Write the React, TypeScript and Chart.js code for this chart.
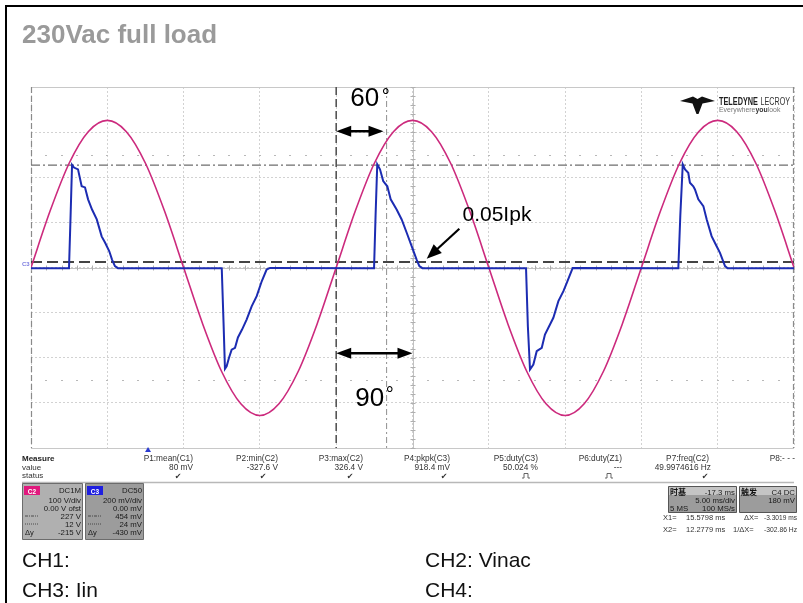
import React, { useEffect, useRef } from "react";
import { Chart, registerables } from "chart.js";

Chart.register(...registerables);

const FONT = '"Liberation Sans", Arial, Helvetica, sans-serif';
const CJK = '"Noto Sans CJK SC", "Liberation Sans", sans-serif';

// ---------------- data ----------------
// CH2: Vinac (V), read every 1.25 ms
const vinacTimeMs = [
  0, 1.25, 2.5, 3.75, 5, 6.25, 7.5, 8.75, 10, 11.25, 12.5, 13.75, 15, 16.25, 17.5, 18.75,
  20, 21.25, 22.5, 23.75, 25, 26.25, 27.5, 28.75, 30, 31.25, 32.5, 33.75, 35, 36.25, 37.5, 38.75,
  40, 41.25, 42.5, 43.75, 45, 46.25, 47.5, 48.75, 50,
];
const vinacVolts = [
  0, 125, 231, 301, 326, 301, 231, 125, 0, -125, -231, -302, -328, -302, -231, -125,
  0, 125, 231, 301, 326, 301, 231, 125, 0, -125, -231, -302, -328, -302, -231, -125,
  0, 125, 231, 301, 326, 301, 231, 125, 0,
];

// CH3: Iin (mV at 200 mV/div)
const iinTimeMs = [
  0, 2.49, 2.59, 2.69, 2.82, 3.08, 3.32, 3.54, 3.74, 4.0, 4.31, 4.63, 4.85, 5.13, 5.31, 5.5, 5.7,
  12.5, 12.62, 12.71, 12.82, 12.98, 13.15, 13.37, 13.56, 13.83, 14.13, 14.46, 14.79, 15.12, 15.44, 15.66,
  22.48, 22.58, 22.69, 22.87, 23.08, 23.35, 23.57, 23.96, 24.29, 24.62, 24.95, 25.27, 25.45, 25.65,
  32.44, 32.56, 32.7, 32.92, 33.14, 33.47, 33.68, 34.23, 34.56, 34.89, 35.11, 35.33, 35.5,
  42.42, 42.55, 42.71, 42.86, 43.07, 43.18, 43.4, 43.51, 43.73, 44.06, 44.28, 44.6, 44.93, 45.15, 45.48, 45.65, 50,
];
const iinMilliVolts = [
  -3, -3, 220, 455, 443, 435, 360, 355, 302, 257, 213, 138, 111, 72, 35, 6, -3,
  -3, -250, -449, -438, -399, -364, -356, -310, -275, -231, -172, -127, -61, -9, -2,
  -3, 230, 457, 435, 383, 360, 302, 257, 213, 154, 94, 35, 6, -3,
  -3, -260, -452, -430, -371, -356, -297, -223, -149, -105, -68, -31, -2,
  -3, 230, 457, 435, 420, 376, 360, 346, 302, 272, 213, 139, 94, 65, 6, -3, -3,
];

// axes: 10 div x 5 ms/div, 8 div x 100 V/div, 8 div x 200 mV/div
const timeRangeMs = [0, 50];
const voltRange = [-400, 400];
const currentRangeMv = [-800, 800];

// cursors
const cursorLevelsMv = [454, 24];
const cursorTimesMs = [20, 23.3];
const triggerTimeMs = 7.67;

// measurement table
const measureLabels = ["P1:mean(C1)", "P2:min(C2)", "P3:max(C2)", "P4:pkpk(C3)", "P5:duty(C3)", "P6:duty(Z1)", "P7:freq(C2)", "P8:- - -"];
const measureValues = ["80 mV", "-327.6 V", "326.4 V", "918.4 mV", "50.024 %", "---", "49.9974616 Hz", ""];
const measureStatus = ["ok", "ok", "ok", "ok", "pulse", "pulse", "ok", ""];

const c2BoxLines = ["DC1M", "100 V/div", "0.00 V ofst", "227 V", "12 V", "-215 V"];
const c3BoxLines = ["DC50", "200 mV/div", "0.00 mV", "454 mV", "24 mV", "-430 mV"];

const PINK = "#cc2a7d";
const BLUE = "#1c2cb2";

// ---------------- helpers ----------------
function txt(
  ctx: CanvasRenderingContext2D,
  s: string,
  x: number,
  y: number,
  size: number,
  color = "#222",
  align: CanvasTextAlign = "left",
  weight = "normal",
  family = FONT,
  maxWidth?: number
) {
  ctx.save();
  ctx.font = `${weight} ${size}px ${family}`;
  ctx.fillStyle = color;
  ctx.textAlign = align;
  ctx.textBaseline = "alphabetic";
  if (maxWidth) ctx.fillText(s, x, y, maxWidth);
  else ctx.fillText(s, x, y);
  ctx.restore();
}

function arrowHead(ctx: CanvasRenderingContext2D, tx: number, ty: number, fx: number, fy: number, len: number, half: number) {
  const a = Math.atan2(ty - fy, tx - fx);
  const bx = tx - len * Math.cos(a);
  const by = ty - len * Math.sin(a);
  ctx.beginPath();
  ctx.moveTo(tx, ty);
  ctx.lineTo(bx + half * Math.sin(a), by - half * Math.cos(a));
  ctx.lineTo(bx - half * Math.sin(a), by + half * Math.cos(a));
  ctx.closePath();
  ctx.fill();
}

function doubleArrow(ctx: CanvasRenderingContext2D, x1: number, x2: number, y: number) {
  ctx.save();
  ctx.strokeStyle = "#000";
  ctx.fillStyle = "#000";
  ctx.lineWidth = 2.5;
  ctx.beginPath();
  ctx.moveTo(x1 + 8, y);
  ctx.lineTo(x2 - 8, y);
  ctx.stroke();
  arrowHead(ctx, x1, y, x2, y, 15, 5.5);
  arrowHead(ctx, x2, y, x1, y, 15, 5.5);
  ctx.restore();
}

function hLine(ctx: CanvasRenderingContext2D, x1: number, x2: number, y: number, color: string, w: number, dash: number[]) {
  ctx.save();
  ctx.strokeStyle = color;
  ctx.lineWidth = w;
  ctx.setLineDash(dash);
  ctx.beginPath();
  ctx.moveTo(x1, y);
  ctx.lineTo(x2, y);
  ctx.stroke();
  ctx.restore();
}
function vLine(ctx: CanvasRenderingContext2D, x: number, y1: number, y2: number, color: string, w: number, dash: number[]) {
  ctx.save();
  ctx.strokeStyle = color;
  ctx.lineWidth = w;
  ctx.setLineDash(dash);
  ctx.beginPath();
  ctx.moveTo(x, y1);
  ctx.lineTo(x, y2);
  ctx.stroke();
  ctx.restore();
}

function box(ctx: CanvasRenderingContext2D, x: number, y: number, w: number, h: number, fill: string, stroke: string) {
  ctx.save();
  ctx.fillStyle = fill;
  ctx.strokeStyle = stroke;
  ctx.lineWidth = 1;
  ctx.beginPath();
  ctx.rect(x + 0.5, y + 0.5, w, h);
  ctx.fill();
  ctx.stroke();
  ctx.restore();
}

// ---------------- plugins ----------------
const scopeUnder = {
  id: "scopeUnder",
  beforeDatasetsDraw(chart: any) {
    const ctx: CanvasRenderingContext2D = chart.ctx;
    const { left, right, top, bottom } = chart.chartArea;
    const xs = chart.scales.x;
    const ys = chart.scales.y;
    const y2 = chart.scales.y2;

    // frame
    hLine(ctx, left, right, top + 0.5, "#c8c8c8", 1, []);
    hLine(ctx, left, right, bottom + 0.5, "#c8c8c8", 1, []);
    vLine(ctx, left + 0.5, top, bottom, "#8a8a8a", 1.2, [6, 3]);
    vLine(ctx, right - 0.5, top, bottom, "#8a8a8a", 1.2, [6, 3]);

    // center axes with minor ticks
    const cx = xs.getPixelForValue(25);
    const cy = ys.getPixelForValue(0);
    vLine(ctx, Math.round(cx) + 0.5, top, bottom, "#c2c2c2", 1, []);
    hLine(ctx, left, right, Math.round(cy) + 0.5, "#c2c2c2", 1, []);
    ctx.save();
    ctx.strokeStyle = "#b0b0b0";
    ctx.lineWidth = 1;
    for (let v = voltRange[0]; v <= voltRange[1]; v += 20) {
      const py = Math.round(ys.getPixelForValue(v)) + 0.5;
      ctx.beginPath();
      ctx.moveTo(cx - 2, py);
      ctx.lineTo(cx + 3, py);
      ctx.stroke();
    }
    for (let t = timeRangeMs[0]; t <= timeRangeMs[1]; t += 1) {
      const px = Math.round(xs.getPixelForValue(t)) + 0.5;
      ctx.beginPath();
      ctx.moveTo(px, cy - 2);
      ctx.lineTo(px, cy + 3);
      ctx.stroke();
    }
    // dotted rows at +/- 2.5 div
    ctx.fillStyle = "#b8b8b8";
    for (const v of [250, -250]) {
      const py = Math.round(ys.getPixelForValue(v));
      for (let t = 1; t < timeRangeMs[1]; t += 1) {
        const px = Math.round(xs.getPixelForValue(t));
        ctx.fillRect(px - 1, py, 2, 1);
      }
    }
    ctx.restore();

    // cursors
    hLine(ctx, left, right, y2.getPixelForValue(cursorLevelsMv[0]), "#6e6e6e", 1.3, [9, 3, 2, 3]);
    hLine(ctx, left, right, y2.getPixelForValue(cursorLevelsMv[1]), "#444", 2, [11, 5]);
    vLine(ctx, xs.getPixelForValue(cursorTimesMs[0]), top, bottom, "#555", 1.6, [8, 4]);
    vLine(ctx, xs.getPixelForValue(cursorTimesMs[1]), top, bottom, "#9a9a9a", 1.1, [6, 3, 2, 3]);
  },
};

const scopeOver = {
  id: "scopeOver",
  afterDraw(chart: any) {
    const ctx: CanvasRenderingContext2D = chart.ctx;
    const { bottom } = chart.chartArea;
    const xs = chart.scales.x;
    const ys = chart.scales.y;
    const y2 = chart.scales.y2;

    // outer frame (left and top)
    ctx.save();
    ctx.fillStyle = "#000";
    ctx.fillRect(5, 5, 803, 2);
    ctx.fillRect(5, 5, 2, 603);
    ctx.restore();

    // title
    txt(ctx, "230Vac full load", 22, 42.5, 26, "#9a9a9a", "left", "bold");

    // 60° arrow
    const xA = xs.getPixelForValue(cursorTimesMs[0]);
    const x60 = xs.getPixelForValue(23.1);
    const y60 = ys.getPixelForValue(302);
    doubleArrow(ctx, xA, x60, y60);
    txt(ctx, "60", xA + 14, 106, 26, "#000");
    txt(ctx, "°", xA + 45.5, 102.5, 20, "#000");

    // 90° arrow
    const x90 = xs.getPixelForValue(25);
    const y90 = ys.getPixelForValue(-190);
    doubleArrow(ctx, xA, x90, y90);
    txt(ctx, "90", xA + 19, 406, 26, "#000");
    txt(ctx, "°", xA + 49.5, 400.5, 20, "#000");

    // 0.05Ipk arrow
    const tx = xs.getPixelForValue(25.93);
    const ty = y2.getPixelForValue(38.6);
    const fx = xs.getPixelForValue(28.07);
    const fy = y2.getPixelForValue(171.6);
    ctx.save();
    ctx.strokeStyle = "#000";
    ctx.fillStyle = "#000";
    ctx.lineWidth = 2.2;
    ctx.beginPath();
    ctx.moveTo(fx, fy);
    const ang = Math.atan2(ty - fy, tx - fx);
    ctx.lineTo(tx - 10 * Math.cos(ang), ty - 10 * Math.sin(ang));
    ctx.stroke();
    arrowHead(ctx, tx, ty, fx, fy, 15, 6);
    ctx.restore();
    txt(ctx, "0.05Ipk", 462.5, 220.5, 21, "#000");

    // C3 marker at left
    txt(ctx, "C3", 22, 265.5, 6, "#7c7ce0", "left", "bold");

    // trigger marker
    const trx = xs.getPixelForValue(triggerTimeMs);
    ctx.save();
    ctx.fillStyle = "#2a3ad0";
    ctx.beginPath();
    ctx.moveTo(trx, bottom - 1);
    ctx.lineTo(trx - 3, bottom + 4);
    ctx.lineTo(trx + 3, bottom + 4);
    ctx.closePath();
    ctx.fill();
    ctx.restore();

    // logo
    ctx.save();
    ctx.fillStyle = "#111";
    ctx.beginPath();
    ctx.moveTo(680, 101);
    ctx.lineTo(693, 96.5);
    ctx.lineTo(697.5, 99);
    ctx.lineTo(702, 96.5);
    ctx.lineTo(715, 101);
    ctx.lineTo(702.5, 103.5);
    ctx.lineTo(698.5, 114);
    ctx.lineTo(696.5, 114);
    ctx.lineTo(692.5, 103.5);
    ctx.closePath();
    ctx.fill();
    ctx.restore();
    txt(ctx, "TELEDYNE", 719, 105, 10.5, "#222", "left", "bold", FONT, 39);
    txt(ctx, "LECROY", 760.5, 105, 10.5, "#333", "left", "normal", FONT, 29.5);
    ctx.save();
    let lx = 719;
    const parts: [string, string, string][] = [
      ["Everywhere", "normal", "#777"],
      ["you", "bold", "#333"],
      ["look", "normal", "#777"],
    ];
    for (const [s, w, c] of parts) {
      ctx.font = `${w} 7.5px ${FONT}`;
      const mw = ctx.measureText(s).width * 0.92;
      txt(ctx, s, lx, 112, 7.5, c, "left", w, FONT, mw);
      lx += mw;
    }
    ctx.restore();

    // measure table
    txt(ctx, "Measure", 22, 461, 8, "#222", "left", "bold");
    txt(ctx, "value", 22, 469.5, 8, "#333");
    txt(ctx, "status", 22, 477.5, 8, "#333");
    const colRight = [193, 278, 363, 450, 538, 622, 709, 795];
    const statusX = [178, 263, 350, 444, 526, 609, 705, 0];
    measureLabels.forEach((s, i) => txt(ctx, s, colRight[i], 461, 8.3, "#333", "right"));
    measureValues.forEach((s, i) => txt(ctx, s, colRight[i] + (i === 6 ? 2 : 0), 469.5, 8.3, "#333", "right"));
    measureStatus.forEach((s, i) => {
      const sx = statusX[i];
      if (s === "ok") {
        txt(ctx, "✔", sx, 479, 8, "#333", "center", "normal", '"DejaVu Sans", sans-serif');
      } else if (s === "pulse") {
        ctx.save();
        ctx.strokeStyle = "#555";
        ctx.lineWidth = 0.9;
        ctx.beginPath();
        ctx.moveTo(sx - 4, 478);
        ctx.lineTo(sx - 2, 478);
        ctx.lineTo(sx - 2, 473.5);
        ctx.lineTo(sx + 2, 473.5);
        ctx.lineTo(sx + 2, 478);
        ctx.lineTo(sx + 4, 478);
        ctx.stroke();
        ctx.restore();
      }
    });
    hLine(ctx, 22, 794, 482.5, "#b8b8b8", 1.5, []);

    // channel boxes
    const drawChannel = (x: number, w: number, lines: string[], tag: string, tagColor: string, fill: string) => {
      box(ctx, x, 483, w, 56, fill, "#6c6c6c");
      ctx.save();
      ctx.fillStyle = tagColor;
      ctx.fillRect(x + 2, 486, 16, 9);
      ctx.restore();
      txt(ctx, tag, x + 10, 493.5, 6.5, "#fff", "center", "bold");
      const ys2 = [492.5, 502.5, 510.5, 518.5, 526.5, 534.5];
      lines.forEach((s, i) => txt(ctx, s, x + w - 1, ys2[i], 7.8, "#1a1a1a", "right"));
      hLine(ctx, x + 3, x + 16, 516, "#333", 0.8, [3, 1, 1, 1]);
      hLine(ctx, x + 3, x + 16, 524, "#333", 0.8, [1, 1]);
      txt(ctx, "Δy", x + 3, 534.5, 7.5, "#1a1a1a");
    };
    drawChannel(22, 60, c2BoxLines, "C2", "#e0197d", "#b0b0b0");
    drawChannel(85, 58, c3BoxLines, "C3", "#1f1fe0", "#9c9c9c");

    // timebase / trigger boxes
    box(ctx, 668, 486, 68, 26, "#9c9c9c", "#555");
    ctx.save();
    ctx.fillStyle = "#c4c4c4";
    ctx.fillRect(669, 487, 67, 8);
    ctx.restore();
    txt(ctx, "时基", 670, 494.5, 8, "#111", "left", "bold", CJK);
    txt(ctx, "-17.3 ms", 735, 494.5, 7.8, "#1a1a1a", "right");
    txt(ctx, "5.00 ms/div", 735, 503, 7.8, "#1a1a1a", "right");
    txt(ctx, "5 MS", 670, 510.5, 7.8, "#1a1a1a");
    txt(ctx, "100 MS/s", 735, 510.5, 7.8, "#1a1a1a", "right");
    box(ctx, 739, 486, 57, 26, "#9c9c9c", "#555");
    ctx.save();
    ctx.fillStyle = "#c4c4c4";
    ctx.fillRect(740, 487, 56, 8);
    ctx.restore();
    txt(ctx, "触发", 741, 494.5, 8, "#111", "left", "bold", CJK);
    txt(ctx, "C4 DC", 795, 494.5, 7.8, "#1a1a1a", "right");
    txt(ctx, "180 mV", 795, 503, 7.8, "#1a1a1a", "right");

    txt(ctx, "X1=", 663, 520, 7.5, "#333");
    txt(ctx, "15.5798 ms", 686, 520, 7.5, "#333", "left", "normal", FONT, 40);
    txt(ctx, "ΔX=", 744, 520, 7.5, "#333");
    txt(ctx, "-3.3019 ms", 797, 520, 7.5, "#333", "right", "normal", FONT, 33);
    txt(ctx, "X2=", 663, 532, 7.5, "#333");
    txt(ctx, "12.2779 ms", 686, 532, 7.5, "#333", "left", "normal", FONT, 40);
    txt(ctx, "1/ΔX=", 733, 532, 7.5, "#333", "left", "normal", FONT, 22);
    txt(ctx, "-302.86 Hz", 797, 532, 7.5, "#333", "right", "normal", FONT, 33);

    // channel captions
    txt(ctx, "CH1:", 22, 566.5, 21, "#111");
    txt(ctx, "CH3: Iin", 22, 596.5, 21, "#111");
    txt(ctx, "CH2: Vinac", 425, 566.5, 21, "#111");
    txt(ctx, "CH4:", 425, 596.5, 21, "#111");
  },
};

export default function App() {
  const ref = useRef<HTMLCanvasElement | null>(null);

  useEffect(() => {
    if (!ref.current) return;
    const chart = new Chart(ref.current, {
      type: "line",
      data: {
        datasets: [
          {
            label: "CH3: Iin",
            data: iinTimeMs.map((t, i) => ({ x: t, y: iinMilliVolts[i] })),
            yAxisID: "y2",
            borderColor: BLUE,
            borderWidth: 2,
            pointRadius: 0,
            tension: 0,
            order: 0,
          },
          {
            label: "CH2: Vinac",
            data: vinacTimeMs.map((t, i) => ({ x: t, y: vinacVolts[i] })),
            yAxisID: "y",
            borderColor: PINK,
            borderWidth: 1.6,
            pointRadius: 0,
            cubicInterpolationMode: "monotone",
            order: 1,
          },
        ],
      },
      options: {
        responsive: false,
        animation: false,
        devicePixelRatio: 1,
        layout: { padding: { left: 31, top: 87, right: 9, bottom: 155 } },
        plugins: { legend: { display: false }, tooltip: { enabled: false } },
        scales: {
          x: {
            type: "linear",
            min: timeRangeMs[0],
            max: timeRangeMs[1],
            ticks: { display: false, stepSize: 5 },
            grid: { color: "#d2d2d2", lineWidth: 1, drawTicks: false },
            border: { display: false, dash: [2, 2] },
          },
          y: {
            type: "linear",
            min: voltRange[0],
            max: voltRange[1],
            ticks: { display: false, stepSize: 100 },
            grid: { color: "#d2d2d2", lineWidth: 1, drawTicks: false },
            border: { display: false, dash: [2, 2] },
          },
          y2: {
            type: "linear",
            display: false,
            min: currentRangeMv[0],
            max: currentRangeMv[1],
          },
        },
      } as any,
      plugins: [scopeUnder, scopeOver],
    });
    return () => chart.destroy();
  }, []);

  return (
    <div style={{ position: "absolute", left: 0, top: 0, width: 803, height: 603, background: "#fff" }}>
      <canvas ref={ref} width={803} height={603} style={{ display: "block" }} />
    </div>
  );
}
